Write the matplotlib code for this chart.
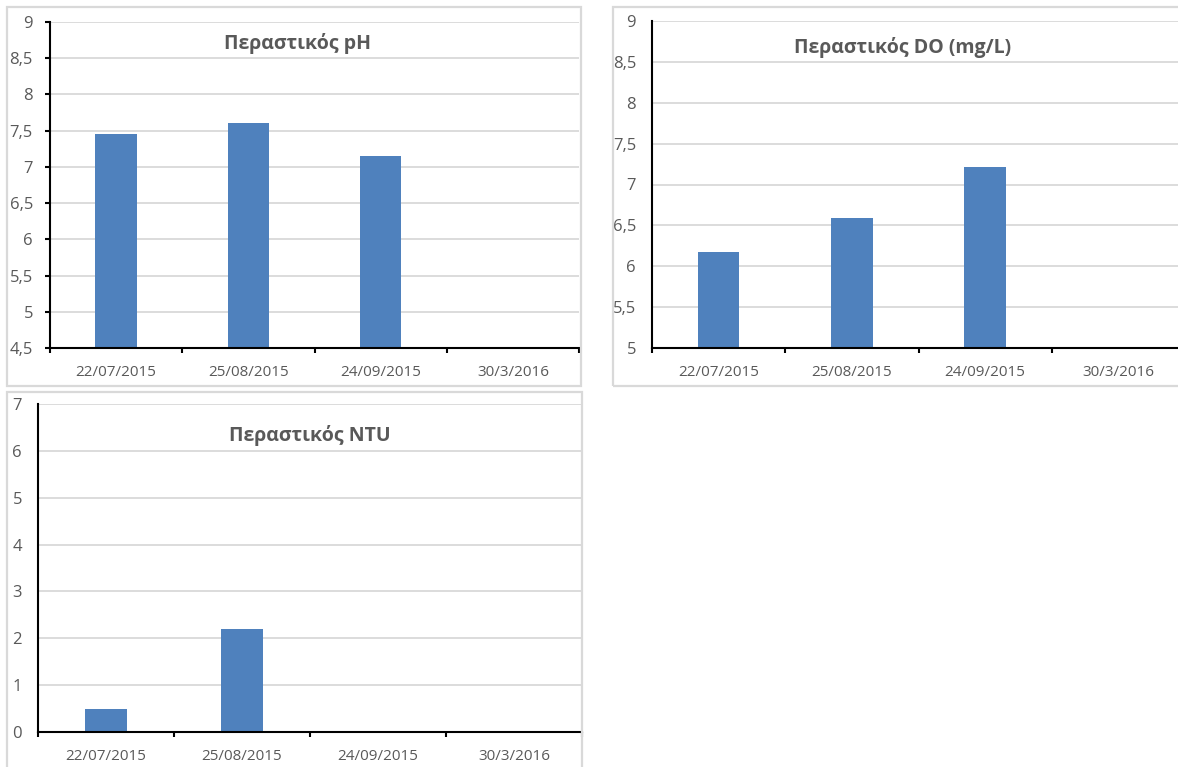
import matplotlib
matplotlib.use('Agg')
import matplotlib.pyplot as plt
from matplotlib.patches import Rectangle
from matplotlib.ticker import FuncFormatter, MultipleLocator, FixedLocator

plt.rcParams['font.family'] = ['Open Sans', 'DejaVu Sans']

# μετρήσεις ανά ημερομηνία δειγματοληψίας
dates = ['22/07/2015', '25/08/2015', '24/09/2015', '30/3/2016']
ph_values = [7.45, 7.6, 7.15, None]
do_values = [6.17, 6.59, 7.22, None]
ntu_values = [0.49, 2.2, None, None]

BAR = '#4F81BD'
GRID = '#D9D9D9'
TXT = '#595959'

W, H = 1178, 767
fig = plt.figure(figsize=(W / 100, H / 100), dpi=100)
PT = 0.72  # points per pixel at 100 dpi


def px_axes(left, top, right, bottom):
    return fig.add_axes([left / W, 1 - bottom / H, (right - left) / W, (bottom - top) / H])


def frame(left, top, right, bottom):
    fig.patches.append(Rectangle((left / W, 1 - bottom / H), (right - left) / W, (bottom - top) / H,
                                 transform=fig.transFigure, fill=False, edgecolor=GRID, lw=1.6))


def comma(v, pos):
    return ('%g' % v).replace('.', ',')


def draw_chart(ax, values, ymin, ymax, step, ytick_marks):
    xs = [i for i, v in enumerate(values) if v is not None]
    hs = [v for v in values if v is not None]
    ax.bar(xs, hs, width=0.313, color=BAR, zorder=3)
    ax.set_xlim(-0.5, len(dates) - 0.5)
    ax.set_ylim(ymin, ymax)
    ax.yaxis.set_major_locator(MultipleLocator(step))
    ax.yaxis.set_major_formatter(FuncFormatter(comma))
    ax.grid(axis='y', color=GRID, lw=1.3, zorder=0)
    ax.set_axisbelow(True)

    # κατηγορίες: γραμμές στα όρια, ετικέτες στο κέντρο
    ax.xaxis.set_major_locator(FixedLocator([i - 0.5 for i in range(len(dates) + 1)]))
    ax.xaxis.set_major_formatter(FuncFormatter(lambda v, p: ''))
    ax.xaxis.set_minor_locator(FixedLocator(range(len(dates))))
    ax.set_xticklabels(dates, minor=True)
    ax.tick_params(axis='x', which='major', length=5 * PT, width=1.5, color='black', direction='out')
    ax.tick_params(axis='x', which='minor', length=0, pad=17 * PT, labelsize=11, labelcolor=TXT)
    if ytick_marks:
        ax.tick_params(axis='y', length=5 * PT, width=1.5, color='black', pad=12 * PT)
    else:
        ax.tick_params(axis='y', length=0, pad=16 * PT)
    ax.tick_params(axis='y', labelsize=12, labelcolor=TXT)

    for s in ['top', 'right']:
        ax.spines[s].set_visible(False)
    for s in ['left', 'bottom']:
        ax.spines[s].set_linewidth(1.5)
        ax.spines[s].set_color('black')
        ax.spines[s].set_zorder(4)


# πλαίσια γραφημάτων
frame(7, 7, 581, 386)
frame(613, 7, 1196, 386)
frame(7, 392, 582, 790)

ax1 = px_axes(50, 22, 579, 348)
draw_chart(ax1, ph_values, 4.5, 9, 0.5, True)

ax2 = px_axes(652, 21, 1185, 348)
draw_chart(ax2, do_values, 5, 9, 0.5, False)

ax3 = px_axes(38, 404, 582, 732)
draw_chart(ax3, ntu_values, 0, 7, 1, False)

title_kw = dict(ha='center', va='center', fontsize=14, fontweight='bold', color=TXT)
fig.text(298 / W, 1 - 44 / H, 'Περαστικός pH', **title_kw)
fig.text(903 / W, 1 - 47 / H, 'Περαστικός DO (mg/L)', **title_kw)
fig.text(310 / W, 1 - 436 / H, 'Περαστικός NTU', **title_kw)

fig.savefig('out.png', dpi=100, facecolor='white')
